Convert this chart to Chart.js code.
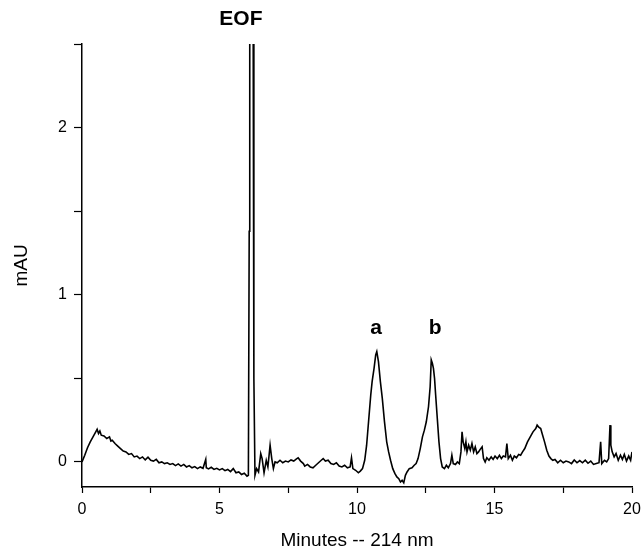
<!DOCTYPE html>
<html>
<head>
<meta charset="utf-8">
<script src="https://cdn.jsdelivr.net/npm/chart.js@4/dist/chart.umd.min.js"></script>
<style>
  html, body { margin: 0; padding: 0; background: #fff; }
  #wrap { width: 643px; height: 552px; }
</style>
</head>
<body>
<div id="wrap"><canvas id="myChart"></canvas></div>
<script>
// electropherogram (minutes, mAU)
const minutes = [
  0.00, 0.10, 0.20, 0.30, 0.40, 0.45, 0.50, 0.55, 0.60, 0.65, 0.70, 0.80, 0.90, 1.00, 1.05, 1.10,
  1.20, 1.30, 1.40, 1.50, 1.60, 1.70, 1.80, 1.90, 2.00, 2.10, 2.20, 2.30, 2.40, 2.50, 2.60, 2.70,
  2.80, 2.90, 3.00, 3.10, 3.20, 3.30, 3.40, 3.50, 3.60, 3.70, 3.80, 3.90, 4.00, 4.10, 4.20, 4.30,
  4.40, 4.50, 4.52, 4.60, 4.70, 4.80, 4.90, 5.00, 5.10, 5.20, 5.30, 5.40, 5.50, 5.60, 5.70, 5.80,
  5.90, 6.00, 6.05, 6.08, 6.10, 6.22, 6.25, 6.29, 6.35, 6.42, 6.50, 6.55, 6.62, 6.70, 6.76, 6.84,
  6.90, 6.96, 7.02, 7.10, 7.20, 7.30, 7.40, 7.50, 7.60, 7.70, 7.80, 7.86, 7.95, 8.05, 8.10, 8.20,
  8.30, 8.40, 8.50, 8.60, 8.70, 8.77, 8.85, 8.95, 9.05, 9.15, 9.25, 9.35, 9.45, 9.55, 9.65, 9.75,
  9.80, 9.85, 9.95, 10.05, 10.12, 10.20, 10.28, 10.35, 10.42, 10.50, 10.55, 10.62, 10.68, 10.72, 10.78, 10.85,
  10.92, 11.00, 11.08, 11.15, 11.22, 11.30, 11.38, 11.45, 11.52, 11.58, 11.64, 11.70, 11.76, 11.82, 11.90, 12.00,
  12.08, 12.15, 12.22, 12.30, 12.38, 12.45, 12.52, 12.60, 12.66, 12.70, 12.74, 12.78, 12.82, 12.86, 12.92, 12.98,
  13.04, 13.10, 13.18, 13.25, 13.32, 13.40, 13.45, 13.50, 13.58, 13.65, 13.72, 13.78, 13.82, 13.86, 13.92, 13.96,
  14.00, 14.06, 14.12, 14.18, 14.24, 14.30, 14.36, 14.42, 14.48, 14.55, 14.60, 14.66, 14.72, 14.80, 14.88, 14.95,
  15.02, 15.10, 15.18, 15.25, 15.32, 15.40, 15.45, 15.50, 15.58, 15.65, 15.72, 15.80, 15.88, 15.95, 16.02, 16.10,
  16.20, 16.30, 16.40, 16.50, 16.55, 16.60, 16.68, 16.75, 16.82, 16.90, 16.98, 17.05, 17.12, 17.20, 17.30, 17.40,
  17.50, 17.60, 17.70, 17.80, 17.90, 18.00, 18.10, 18.20, 18.30, 18.40, 18.50, 18.60, 18.70, 18.80, 18.86, 18.90,
  19.00, 19.08, 19.15, 19.20, 19.23, 19.28, 19.35, 19.42, 19.50, 19.58, 19.65, 19.72, 19.80, 19.88, 19.95, 20.00
];
const absorbance = [
  0.000, 0.040, 0.085, 0.120, 0.150, 0.165, 0.180, 0.195, 0.170, 0.185, 0.160, 0.155, 0.140, 0.150, 0.125, 0.130,
  0.110, 0.095, 0.080, 0.065, 0.060, 0.045, 0.050, 0.030, 0.035, 0.020, 0.030, 0.012, 0.028, 0.010, 0.005, 0.015,
  -0.005, 0.000, -0.010, -0.005, -0.015, -0.010, -0.022, -0.012, -0.025, -0.015, -0.030, -0.022, -0.035, -0.028, -0.040, -0.030,
  -0.038, 0.015, -0.035, -0.042, -0.032, -0.045, -0.038, -0.048, -0.040, -0.052, -0.045, -0.058, -0.040, -0.065, -0.060, -0.075,
  -0.068, -0.085, -0.080, 1.380, 3.000, 3.000, 0.500, -0.080, -0.040, -0.060, 0.050, 0.020, -0.065, 0.010, -0.030, 0.100,
  0.020, -0.040, 0.000, -0.005, 0.010, -0.005, 0.005, 0.000, 0.012, 0.005, 0.018, 0.025, 0.005, -0.010, -0.025, -0.015,
  -0.030, -0.035, -0.020, -0.005, 0.010, 0.020, 0.005, 0.010, -0.010, -0.015, -0.005, -0.025, -0.030, -0.020, -0.035, -0.030,
  0.025, -0.040, -0.050, -0.065, -0.055, -0.040, 0.010, 0.100, 0.240, 0.400, 0.480, 0.560, 0.640, 0.660, 0.600, 0.480,
  0.380, 0.240, 0.120, 0.060, 0.010, -0.040, -0.070, -0.090, -0.100, -0.120, -0.110, -0.125, -0.080, -0.060, -0.040, -0.035,
  -0.020, -0.010, 0.020, 0.080, 0.150, 0.190, 0.240, 0.330, 0.450, 0.610, 0.590, 0.560, 0.500, 0.400, 0.260, 0.120,
  0.020, -0.030, -0.040, -0.020, -0.035, -0.010, 0.040, -0.010, -0.015, 0.000, -0.010, 0.060, 0.180, 0.120, 0.080, 0.120,
  0.060, 0.100, 0.070, 0.110, 0.060, 0.090, 0.050, 0.060, 0.075, 0.090, 0.020, 0.000, 0.025, 0.010, 0.030, 0.015,
  0.035, 0.020, 0.040, 0.020, 0.035, 0.030, 0.110, 0.020, 0.040, 0.010, 0.035, 0.025, 0.045, 0.040, 0.060, 0.080,
  0.120, 0.150, 0.180, 0.200, 0.220, 0.210, 0.200, 0.160, 0.120, 0.070, 0.035, 0.020, 0.010, 0.015, -0.005, 0.010,
  -0.005, 0.005, 0.000, -0.010, 0.012, -0.005, 0.008, -0.005, 0.010, -0.008, 0.005, -0.015, -0.010, -0.005, 0.120, -0.010,
  0.010, 0.000, 0.020, 0.220, 0.100, 0.060, 0.030, 0.050, 0.010, 0.040, 0.015, 0.045, 0.005, 0.035, 0.010, 0.060
];

// peak labels
const peakNames = ["EOF", "a", "b"];
const peakTimes = [5.78, 10.69, 12.84];
const peakLevels = [2.65, 0.80, 0.80];

const points = minutes.map((m, i) => ({ x: m, y: absorbance[i] }));

const peakLabelPlugin = {
  id: "peakLabels",
  afterDatasetsDraw(chart) {
    const c = chart.ctx;
    const xs = chart.scales.x;
    const ys = chart.scales.y;
    c.save();
    c.fillStyle = "#000";
    c.font = "bold 21px 'Liberation Sans', Arial, sans-serif";
    c.textAlign = "center";
    c.textBaseline = "middle";
    peakNames.forEach((name, i) => {
      c.fillText(name, xs.getPixelForValue(peakTimes[i]), ys.getPixelForValue(peakLevels[i]));
    });
    c.restore();
  },
};

Chart.defaults.font.family = "'Liberation Sans', Arial, sans-serif";
Chart.defaults.color = "#000";

new Chart(document.getElementById("myChart"), {
  type: "line",
  data: {
    datasets: [
      {
        data: points,
        borderColor: "#000",
        borderWidth: 1.6,
        pointRadius: 0,
        tension: 0,
        fill: false,
      },
    ],
  },
  options: {
    responsive: true,
    maintainAspectRatio: false,
    animation: false,
    layout: {
      padding: { top: 44, right: 11, left: 0, bottom: 0 },
    },
    plugins: {
      legend: { display: false },
      tooltip: { enabled: false },
    },
    scales: {
      x: {
        type: "linear",
        min: 0,
        max: 20,
        afterFit(scale) {
          scale.height = 65;
          scale.paddingLeft = 0;
          scale.paddingRight = 0;
        },
        border: { display: true, color: "#000", width: 1.5 },
        grid: { drawOnChartArea: false, drawTicks: true, tickLength: 6, color: "#000", tickWidth: 1.2 },
        ticks: {
          stepSize: 2.5,
          padding: 7,
          maxRotation: 0,
          font: { size: 16 },
          callback: (v) => (v % 5 === 0 ? v : ""),
        },
        title: {
          display: true,
          text: "Minutes -- 214 nm",
          font: { size: 19 },
          padding: { top: 0, bottom: 0 },
        },
      },
      y: {
        min: -0.15,
        max: 2.5,
        afterFit(scale) {
          scale.width = 82;
          scale.paddingTop = 0;
          scale.paddingBottom = 0;
        },
        border: { display: true, color: "#000", width: 1.5 },
        grid: { drawOnChartArea: false, drawTicks: true, tickLength: 8, color: "#000", tickWidth: 1.2 },
        ticks: {
          stepSize: 0.5,
          includeBounds: false,
          padding: 7,
          font: { size: 16 },
          callback: (v) => (Math.abs(v - Math.round(v)) < 1e-6 ? Math.round(v) : ""),
        },
        title: {
          display: true,
          text: "mAU",
          font: { size: 19 },
          padding: { top: 10, bottom: 0 },
        },
      },
    },
  },
  plugins: [peakLabelPlugin],
});
</script>
</body>
</html>
